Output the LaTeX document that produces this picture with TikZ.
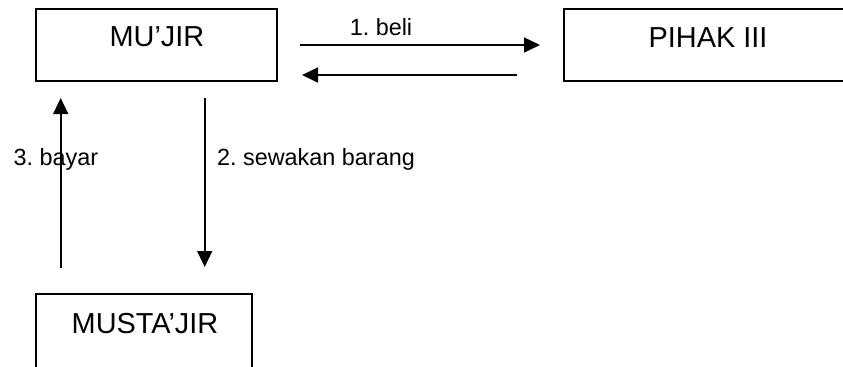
\documentclass[tikz,border=0pt]{standalone}
\usepackage{fontspec}
\setmainfont{Liberation Sans}
\frenchspacing
\usetikzlibrary{arrows.meta}
\begin{document}
\begin{tikzpicture}[x=0.5pt,y=-0.5pt,
  box/.style={draw, line width=0.9pt, inner sep=0pt, outer sep=0pt},
  boxtext/.style={font=\fontsize{14.45}{17}\selectfont, anchor=base, inner sep=0pt},
  lbl/.style={font=\fontsize{11.7}{14}\selectfont, anchor=base, inner sep=0pt},
  conn/.style={line width=0.8pt, -{Triangle[length=8pt,width=7.5pt]}}]
\useasboundingbox (0,0) rectangle (843,366);
\begin{scope}
\clip (0,0) rectangle (843,366);
% boxes
\node[box, minimum width=120.5pt, minimum height=36pt] (mujir) at (156.5,45) {};
\node[box, minimum width=144pt, minimum height=36pt] (pihak) at (708,45) {};
\node[box, minimum width=108pt, minimum height=39pt] (mustajir) at (144,333) {};
\end{scope}
% box texts
\node[boxtext] (mujirt) at (157,46) {MU’JIR};
\node[boxtext] (pihakt) at (708,47) {PIHAK III};
\node[boxtext] (mustajirt) at (145,333) {MUSTA’JIR};
% connector ends
\coordinate (a1s) at (300,45);
\coordinate (a1e) at (540,45);
\coordinate (a2s) at (517,75);
\coordinate (a2e) at (302,75);
\coordinate (a3s) at (60.7,268);
\coordinate (a3e) at (60.7,98);
\coordinate (a4s) at (204.7,98);
\coordinate (a4e) at (204.7,267);
% connectors
\draw[conn] (a1s) -- (a1e);
\draw[conn] (a2s) -- (a2e);
\draw[conn] (a3s) -- (a3e);
\draw[conn] (a4s) -- (a4e);
% labels
\node[lbl] (l1) at (381,35) {1. beli};
\node[lbl] (l3) at (56,165) {3. bayar};
\node[lbl] (l2) at (316,165) {2. sewakan barang};
\end{tikzpicture}
\end{document}
